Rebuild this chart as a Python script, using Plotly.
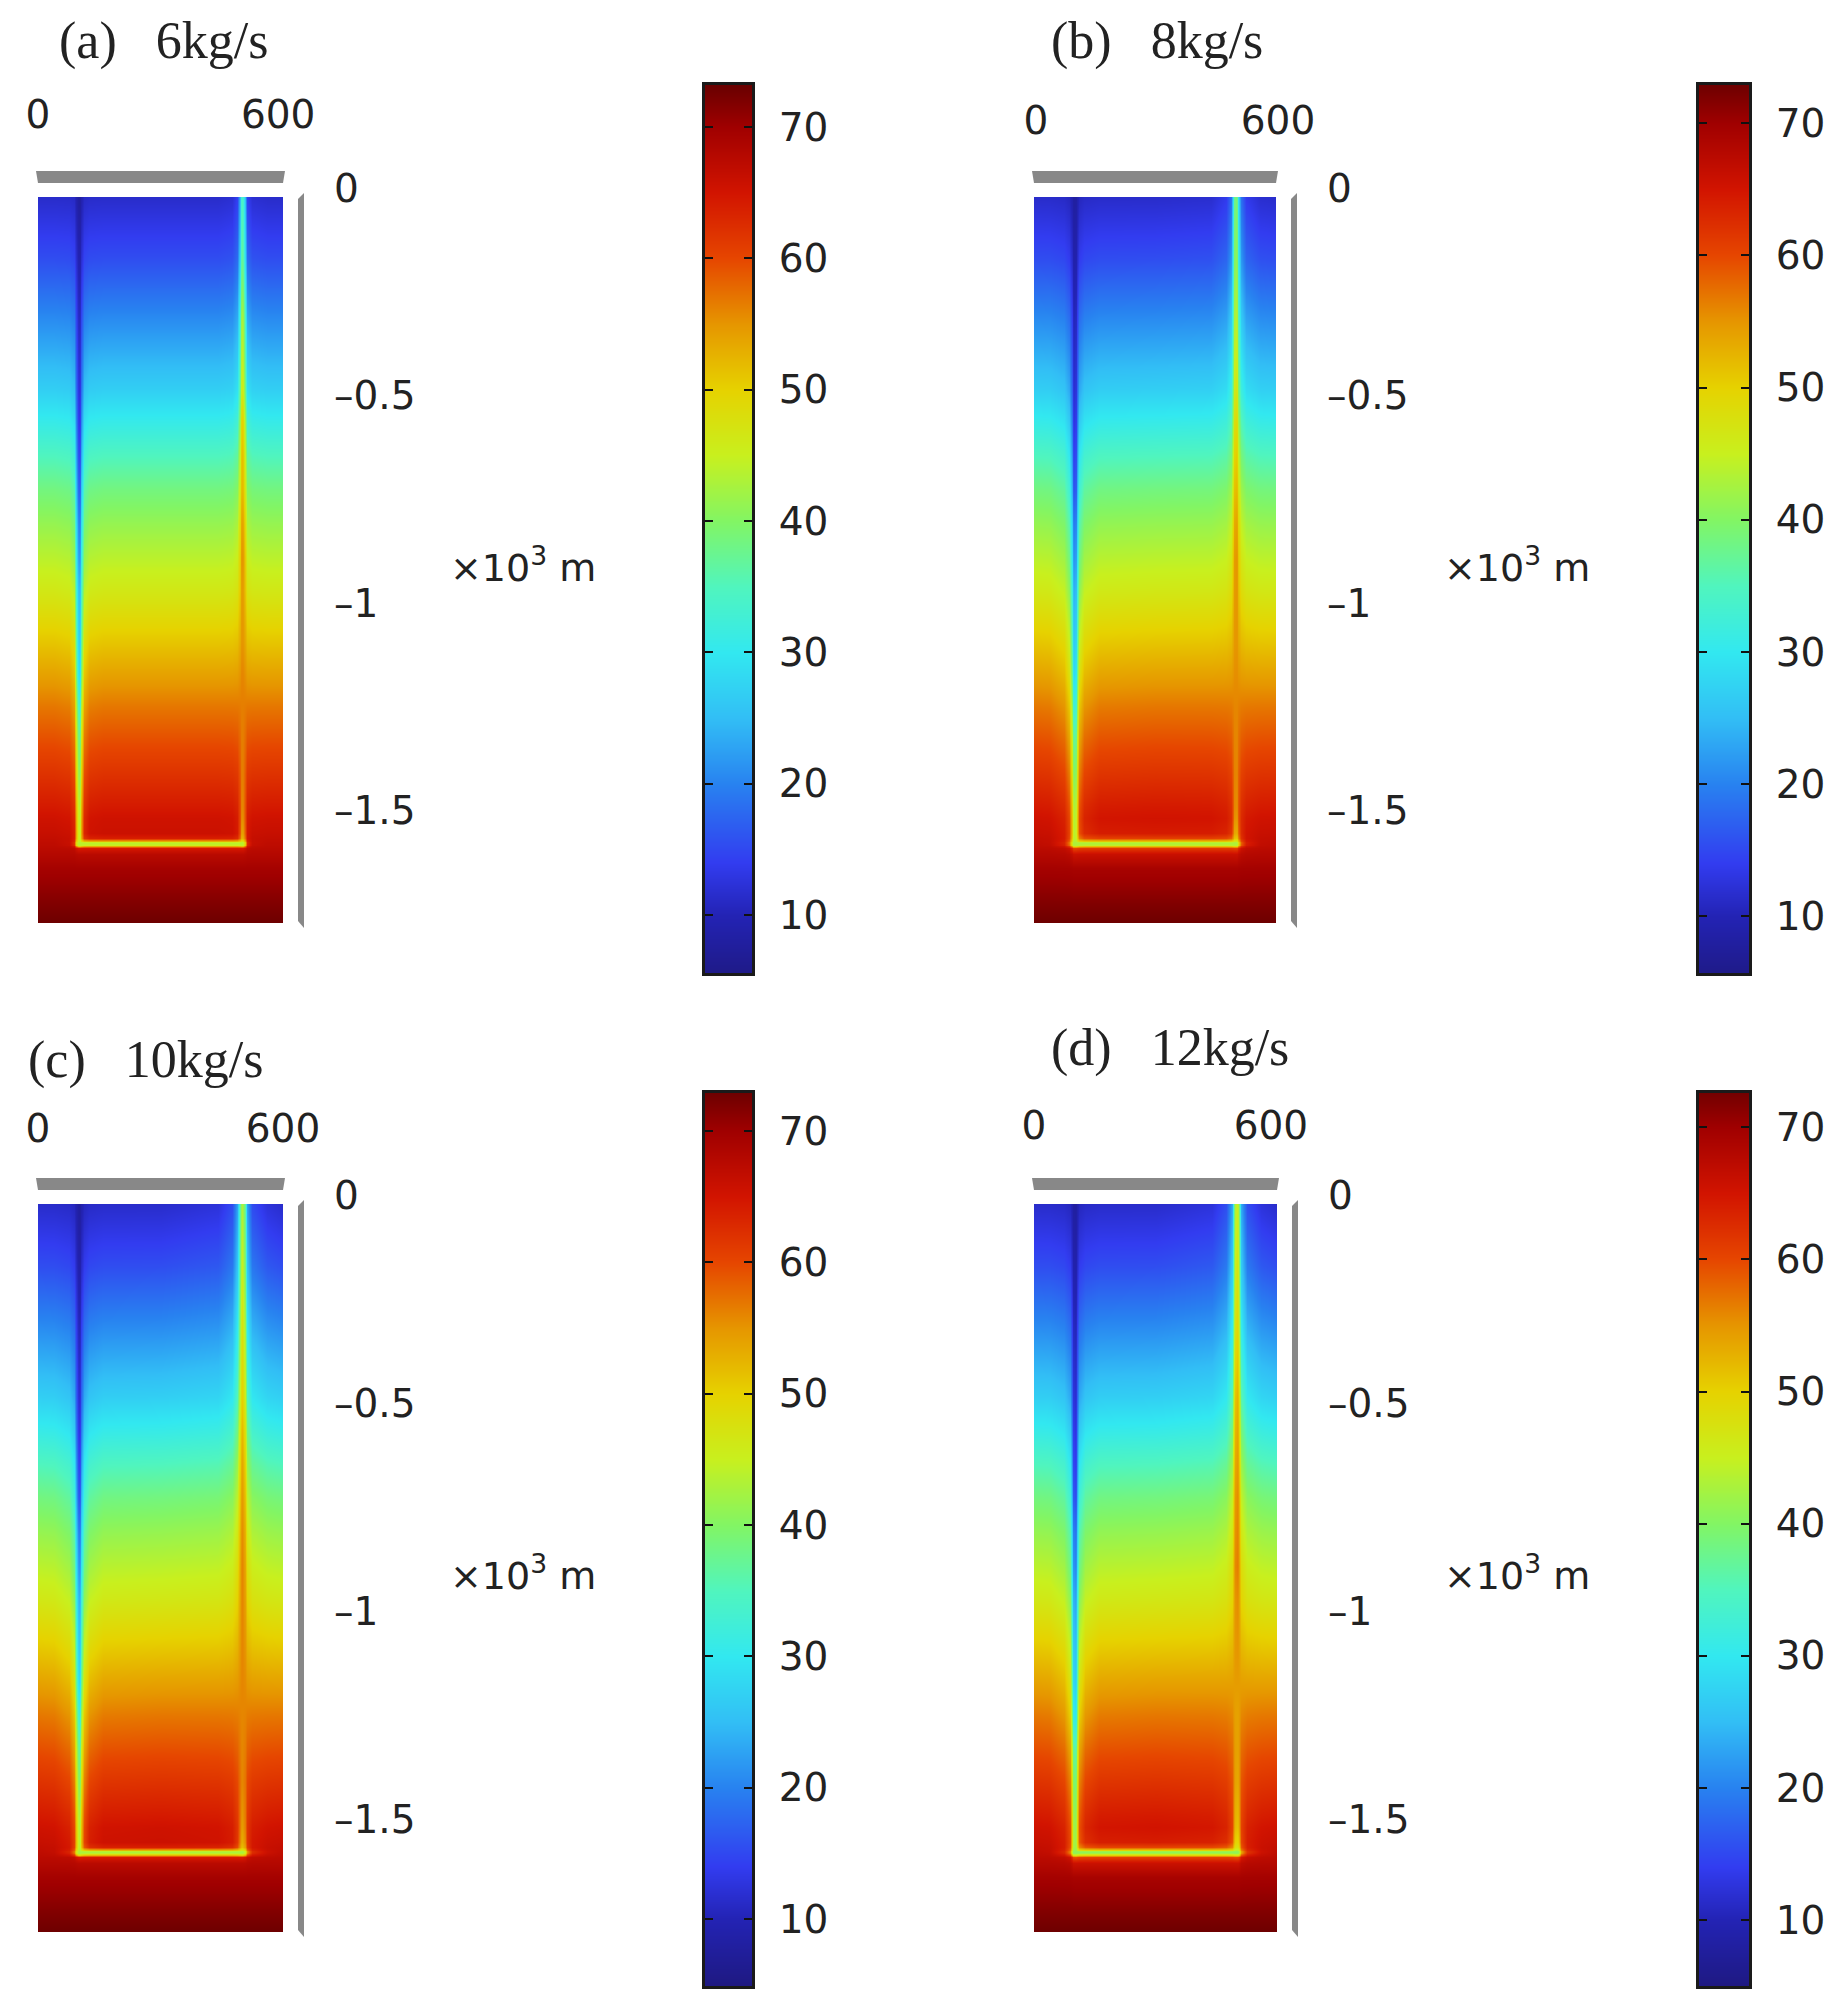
import numpy as np
import plotly.graph_objects as go

W, H = 1846, 2007

# depth of each grid row (m), positions across the section (m) are built from the pipes
depth_m = [0, 150, 300, 465, 545, 625, 705, 790, 870, 950, 1070, 1150, 1230, 1310, 1390, 1470,
           1498, 1533, 1546, 1552, 1555, 1558, 1561, 1564, 1570, 1583, 1618, 1710, 1750]
rock_temp = [11.5, 15.5, 21, 27, 31, 35, 38.5, 41.5, 44, 46.5, 51, 54, 57, 59.5, 62, 64.5,
             65.4, 66.2, 66.6, 66.8, 66.9, 67, 67.1, 67.2, 67.4, 68, 69.5, 72, 73]

# pipe temperatures, one value per row down to the pipe bottom (1558 m)
inlet_a = [8, 9.5, 11, 12.5, 13.5, 15, 17, 20, 22, 25, 27, 29, 34, 38, 41, 44, 44.5, 45, 45.2, 45.5, 45.7, 46]
outlet_a = [34, 37, 43, 46, 50, 51.5, 52, 54, 55, 54.5, 55, 56, 56.5, 56.5, 56.5, 56, 55.5, 54.5, 54, 54, 54, 54]
inlet_b = [8, 9, 10.5, 12, 13, 14.5, 16, 19.5, 21.5, 24, 26.5, 28.5, 32.5, 37, 40, 43, 43.5, 44, 44.2, 44.5, 44.7, 45]
outlet_b = [39, 41, 44, 47, 49, 50.5, 52, 54, 55, 55, 55, 55.5, 56, 56, 56, 55.5, 55, 54, 53.5, 53, 53, 53]
inlet_c = [8, 9, 10.5, 12, 13, 14.5, 16, 19.5, 21.5, 24, 26.5, 28.5, 33, 37, 40, 43, 43.5, 44, 44.2, 44.5, 44.7, 45]
outlet_c = [43, 45, 47.5, 50, 52, 53.5, 54.5, 55.5, 56, 56, 56, 56, 56, 56, 56, 55, 54.5, 53.5, 53, 52.5, 52.5, 52.5]
inlet_d = [8, 9, 10.5, 12, 13, 14, 15.5, 19, 20.5, 23, 25.5, 27, 30, 36, 39, 41, 41.5, 42, 42.2, 42.5, 42.7, 43]
outlet_d = [45, 47, 49, 52.5, 53.5, 54.5, 55.5, 56, 56.5, 55.5, 55, 54.5, 54, 54, 53.5, 52, 51.5, 50, 49.5, 49, 49, 49]
bottom_pipe = [44, 43, 43, 41]

pipe_x = [100, 500]
pipe_depth = 1558
halo_offset = [-60, -25, -12, -6, -3, 0, 3, 6, 12, 25, 60]
halo_narrow = [0, 0.02, 0.12, 0.6, 0.95, 1, 0.95, 0.6, 0.12, 0.02, 0]
halo_wide = [0.01, 0.08, 0.25, 0.65, 0.95, 1, 0.95, 0.65, 0.25, 0.08, 0.01]
halo_thick = [0.03, 0.12, 0.35, 0.8, 0.95, 1, 0.95, 0.8, 0.35, 0.12, 0.03]

panel_titles = ["(a)\u00a0\u00a0\u00a06kg/s", "(b)\u00a0\u00a0\u00a08kg/s", "(c)\u00a0\u00a0\u00a010kg/s", "(d)\u00a0\u00a0\u00a012kg/s"]
x_tick_text = ["0", "600"]
y_tick_vals = [0, -500, -1000, -1500]
y_tick_text = ["0", "\u20130.5", "\u20131", "\u20131.5"]
bar_tick_vals = [10, 20, 30, 40, 50, 60, 70]
bar_ranges = [(5.6, 73.2), (5.7, 72.9), (4.9, 72.9), (5.0, 72.6)]

# rainbow scale
scale_temp = [5, 10, 14, 20, 25, 30, 35, 40, 45, 50, 55, 60, 65, 70, 73.5]
scale_rgb = ["rgb(30,25,130)", "rgb(35,35,180)", "rgb(50,60,240)", "rgb(40,130,240)", "rgb(50,190,245)",
             "rgb(50,232,240)", "rgb(80,245,190)", "rgb(130,245,100)", "rgb(200,240,30)", "rgb(230,210,0)",
             "rgb(230,150,0)", "rgb(230,70,0)", "rgb(210,20,0)", "rgb(160,0,0)", "rgb(100,0,0)"]
colorscale = [[(t - scale_temp[0]) / (scale_temp[-1] - scale_temp[0]), c] for t, c in zip(scale_temp, scale_rgb)]

# pixel boxes and label placement
panels = [
    dict(box=(38, 283, 197, 923), bar=(705, 752, 85, 973), inlet=inlet_a, outlet=outlet_a, left=halo_narrow,
         right=halo_narrow, row=halo_narrow, x600=588, shift=0, standoff=60, title=(57, 41), unit=(448, 565)),
    dict(box=(1034, 1276, 197, 923), bar=(1699, 1749, 85, 973), inlet=inlet_b, outlet=outlet_b, left=halo_wide,
         right=halo_wide, row=halo_wide, x600=600, shift=2, standoff=54, title=(1049, 41), unit=(1442, 565)),
    dict(box=(38, 283, 1204, 1932), bar=(705, 752, 1093, 1986), inlet=inlet_c, outlet=outlet_c, left=halo_wide,
         right=halo_thick, row=halo_narrow, x600=600, shift=0, standoff=53, title=(26, 1060), unit=(448, 1573)),
    dict(box=(1034, 1277, 1204, 1932), bar=(1699, 1749, 1093, 1986), inlet=inlet_d, outlet=outlet_d, left=halo_wide,
         right=halo_thick, row=halo_wide, x600=585, shift=0, standoff=56, title=(1049, 1048), unit=(1442, 1573)),
]

x_cols = sorted({0, 300, 600} | {p + o for p in pipe_x for o in halo_offset})
TEXT = "#222222"
MONO = "DejaVu Sans"


def temperature_grid(p, bottom):
    left_w = np.zeros(len(x_cols))
    right_w = np.zeros(len(x_cols))
    for o, wl, wr in zip(halo_offset, p["left"], p["right"]):
        left_w[x_cols.index(pipe_x[0] + o)] = wl
        right_w[x_cols.index(pipe_x[1] + o)] = wr
    row_w = np.zeros(len(depth_m))
    for o, w in zip(halo_offset, p["row"]):
        row_w[depth_m.index(pipe_depth + o)] = w
    grid = []
    for i, d in enumerate(depth_m):
        below = 1 if d <= pipe_depth else row_w[i] ** 2
        k = min(i, len(p["inlet"]) - 1)
        row = []
        for j, x in enumerate(x_cols):
            t = rock_temp[i]
            t += below * left_w[j] * (p["inlet"][k] - t)
            t += below * right_w[j] * (p["outlet"][k] - t)
            inner = 1 if pipe_x[0] <= x <= pipe_x[1] else max(left_w[j], right_w[j])
            t += row_w[i] * inner * (bottom - t)
            row.append(float(t))
        grid.append(row)
    return grid


def dom_x(a, b):
    return [a / W, b / W]


def dom_y(top, bottom):
    return [1 - bottom / H, 1 - top / H]


fig = go.Figure()
layout = {}
shapes = []
annotations = []
n = 0
for p, bottom, title, (lo, hi) in zip(panels, bottom_pipe, panel_titles, bar_ranges):
    x0, x1, y0, y1 = p["box"]

    # temperature field
    n += 1
    fig.add_trace(go.Heatmap(x=x_cols, y=[-d for d in depth_m], z=temperature_grid(p, bottom),
                             zmin=scale_temp[0], zmax=scale_temp[-1], colorscale=colorscale,
                             zsmooth="best", showscale=False, hoverinfo="skip",
                             xaxis=f"x{n}", yaxis=f"y{n}"))
    layout[f"xaxis{n}"] = dict(domain=dom_x(x0, x1), range=[0, 600], anchor=f"y{n}", side="top",
                               tickvals=[0, p["x600"]], ticktext=x_tick_text, ticks="", showgrid=False,
                               zeroline=False, showline=False, ticklabelstandoff=p["standoff"],
                               ticklabelshift=p["shift"], tickfont=dict(family=MONO, size=39, color=TEXT))
    layout[f"yaxis{n}"] = dict(domain=dom_y(y0, y1), range=[-1750, 0], anchor=f"x{n}", side="right",
                               tickvals=y_tick_vals, ticktext=y_tick_text, ticks="", showgrid=False,
                               zeroline=False, showline=False, ticklabelstandoff=50, ticklabelshift=-9,
                               tickfont=dict(family=MONO, size=39, color=TEXT))

    # colour bar drawn as its own strip, the axis gives the ticks on both edges
    bx0, bx1, by0, by1 = p["bar"]
    n += 1
    fig.add_trace(go.Heatmap(x=[0, 1], y=[lo, hi], z=[[lo, lo], [hi, hi]],
                             zmin=scale_temp[0], zmax=scale_temp[-1], colorscale=colorscale,
                             zsmooth="best", showscale=False, hoverinfo="skip",
                             xaxis=f"x{n}", yaxis=f"y{n}"))
    layout[f"xaxis{n}"] = dict(domain=dom_x(bx0, bx1), range=[0, 1], anchor=f"y{n}", showticklabels=False,
                               ticks="", showgrid=False, zeroline=False, showline=True, mirror=True,
                               linecolor="#1a1a1a", linewidth=3)
    layout[f"yaxis{n}"] = dict(domain=dom_y(by0, by1), range=[lo, hi], anchor=f"x{n}", side="right",
                               tickvals=bar_tick_vals, ticks="inside", ticklen=8, tickwidth=2,
                               tickcolor="#111111", mirror="ticks", showgrid=False, zeroline=False,
                               showline=True, linecolor="#1a1a1a", linewidth=3, ticklabelstandoff=16,
                               tickfont=dict(family=MONO, size=39, color=TEXT))

    # grey scale bars above and right of the section
    shapes.append(dict(type="path", xref="paper", yref="paper", fillcolor="#888888", line_width=0,
                       path=f"M {(x0 - 2) / W} {1 - (y0 - 26) / H} L {(x1 + 2) / W} {1 - (y0 - 26) / H} "
                            f"L {x1 / W} {1 - (y0 - 14) / H} L {x0 / W} {1 - (y0 - 14) / H} Z"))
    shapes.append(dict(type="path", xref="paper", yref="paper", fillcolor="#888888", line_width=0,
                       path=f"M {(x1 + 21) / W} {1 - (y0 - 4) / H} L {(x1 + 21) / W} {1 - (y1 + 5) / H} "
                            f"L {(x1 + 15) / W} {1 - (y1 - 2) / H} L {(x1 + 15) / W} {1 - (y0 + 2) / H} Z"))

    annotations.append(dict(text=title, xref="paper", yref="paper", x=p["title"][0] / W, y=1 - p["title"][1] / H,
                            xanchor="left", yanchor="middle", showarrow=False,
                            font=dict(family="Liberation Serif", size=52, color=TEXT)))
    annotations.append(dict(text="\u00d710<sup>3</sup> m", xref="paper", yref="paper", x=p["unit"][0] / W,
                            y=1 - p["unit"][1] / H, xanchor="left", yanchor="middle", showarrow=False,
                            font=dict(family=MONO, size=38, color=TEXT)))

fig.update_layout(width=W, height=H, autosize=False, showlegend=False,
                  margin=dict(l=0, r=0, t=0, b=0, pad=0, autoexpand=False),
                  paper_bgcolor="white", plot_bgcolor="white", shapes=shapes, annotations=annotations, **layout)

fig.write_html("out.html", config={"displayModeBar": False},
               post_script="document.body.style.margin='0';")
